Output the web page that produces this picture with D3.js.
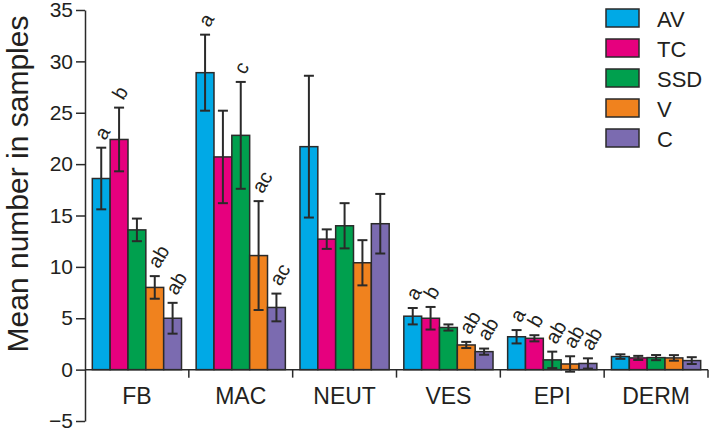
<!DOCTYPE html>
<html><head><meta charset="utf-8">
<script src="https://cdn.jsdelivr.net/npm/d3@7"></script>
<style>
html,body{margin:0;padding:0;background:#fff;}
svg text{font-family:"Liberation Sans", Arial, Helvetica, sans-serif;fill:#231f20;}
</style></head>
<body><svg id="c" width="709" height="430"></svg>
<script>
const categories = ["FB","MAC","NEUT","VES","EPI","DERM"];
const series = ["AV","TC","SSD","V","C"];
const colors = ["#00a9e6","#e6007e","#00a04e","#f0821e","#7b6bb0"];
const means = {
  AV:  [18.6, 28.9, 21.7, 5.2, 3.2, 1.27],
  TC:  [22.4, 20.7, 12.7, 5.0, 3.05, 1.14],
  SSD: [13.6, 22.8, 14.0, 4.1, 0.95, 1.17],
  V:   [8.0, 11.1, 10.4, 2.4, 0.55, 1.14],
  C:   [5.0, 6.05, 14.2, 1.75, 0.6, 0.88]
};
const errors = {
  AV:  [3.0, 3.7, 6.9, 0.8, 0.65, 0.22],
  TC:  [3.1, 4.5, 0.95, 1.1, 0.3, 0.2],
  SSD: [1.1, 5.2, 2.2, 0.3, 0.8, 0.25],
  V:   [1.1, 5.3, 2.2, 0.3, 0.75, 0.27],
  C:   [1.5, 1.35, 2.9, 0.3, 0.5, 0.33]
};
const letters = {
  AV:  ["a","a","","a","a",""],
  TC:  ["b","","","b","b",""],
  SSD: ["","c","","","ab",""],
  V:   ["ab","ac","","ab","ab",""],
  C:   ["ab","ac","","ab","ab",""]
};
const yTicks = [-5,0,5,10,15,20,25,30,35];
const yTitle = "Mean number in samples";

const svg = d3.select("#c");
const y = d3.scaleLinear().domain([-5,35]).range([421,10]);
const x0 = d3.scaleBand().domain(categories).range([85,708]).paddingInner(0).paddingOuter(0);
const x1 = d3.scaleBand().domain(series).range([0,x0.bandwidth()]).paddingInner(0).paddingOuter(0.41);
const color = d3.scaleOrdinal().domain(series).range(colors);

const data = [];
categories.forEach((c,i)=>series.forEach(s=>data.push({c,s,v:means[s][i],e:errors[s][i],l:letters[s][i]})));

// bars
svg.append("g").selectAll("rect").data(data).join("rect")
  .attr("x",d=>x0(d.c)+x1(d.s))
  .attr("width",x1.bandwidth())
  .attr("y",d=>y(d.v))
  .attr("height",d=>y(0)-y(d.v))
  .attr("fill",d=>color(d.s))
  .attr("stroke","#2a2a2a").attr("stroke-width",1.5);

// error bars
const eg = svg.append("g").attr("stroke","#2a2a2a").attr("stroke-width",2).attr("fill","none");
data.forEach(d=>{
  const cx = x0(d.c)+x1(d.s)+x1.bandwidth()/2;
  eg.append("line").attr("x1",cx).attr("x2",cx).attr("y1",y(d.v+d.e)).attr("y2",y(d.v-d.e));
  eg.append("line").attr("x1",cx-5).attr("x2",cx+5).attr("y1",y(d.v+d.e)).attr("y2",y(d.v+d.e));
  eg.append("line").attr("x1",cx-5).attr("x2",cx+5).attr("y1",y(d.v-d.e)).attr("y2",y(d.v-d.e));
});

// letters
svg.append("g").selectAll("text").data(data.filter(d=>d.l)).join("text")
  .attr("transform",d=>{
    const cx = x0(d.c)+x1(d.s)+x1.bandwidth()/2;
    return `translate(${cx-2},${y(d.v+d.e)-10}) rotate(-60)`;
  })
  .attr("dy","0.35em").attr("font-size",20).text(d=>d.l);

// y axis
const ya = svg.append("g").attr("transform","translate(85,0)")
  .call(d3.axisLeft(y).tickValues(yTicks).tickSize(9).tickSizeOuter(0).tickPadding(3)
    .tickFormat(d=>d<0?"\u2212"+Math.abs(d):d));
ya.select(".domain").attr("stroke","#2a2a2a").attr("stroke-width",1.5);
ya.selectAll(".tick line").attr("stroke","#2a2a2a").attr("stroke-width",1.5);
ya.selectAll(".tick text").attr("font-size",21).attr("fill","#231f20");

// x axis at zero
const xa = svg.append("g").attr("transform",`translate(0,${y(0)})`);
xa.append("line").attr("x1",85).attr("x2",708).attr("stroke","#2a2a2a").attr("stroke-width",1.5);
xa.selectAll("line.t").data(categories).join("line").attr("class","t")
  .attr("x1",d=>x0(d)+x0.bandwidth()).attr("x2",d=>x0(d)+x0.bandwidth())
  .attr("y1",0).attr("y2",8).attr("stroke","#2a2a2a").attr("stroke-width",1.5);
xa.selectAll("text").data(categories).join("text")
  .attr("x",d=>x0(d)+x0.bandwidth()/2).attr("y",34)
  .attr("text-anchor","middle").attr("font-size",23).text(d=>d);

// y title
svg.append("text").attr("transform","translate(28,184) rotate(-90)")
  .attr("text-anchor","middle").attr("font-size",30).text(yTitle);

// legend
const lg = svg.append("g");
series.forEach((s,i)=>{
  lg.append("rect").attr("x",606).attr("y",9+i*30).attr("width",33).attr("height",18)
    .attr("fill",color(s)).attr("stroke","#2a2a2a").attr("stroke-width",1.5);
  lg.append("text").attr("x",657).attr("y",27+i*30).attr("font-size",22).text(s);
});
</script></body></html>
